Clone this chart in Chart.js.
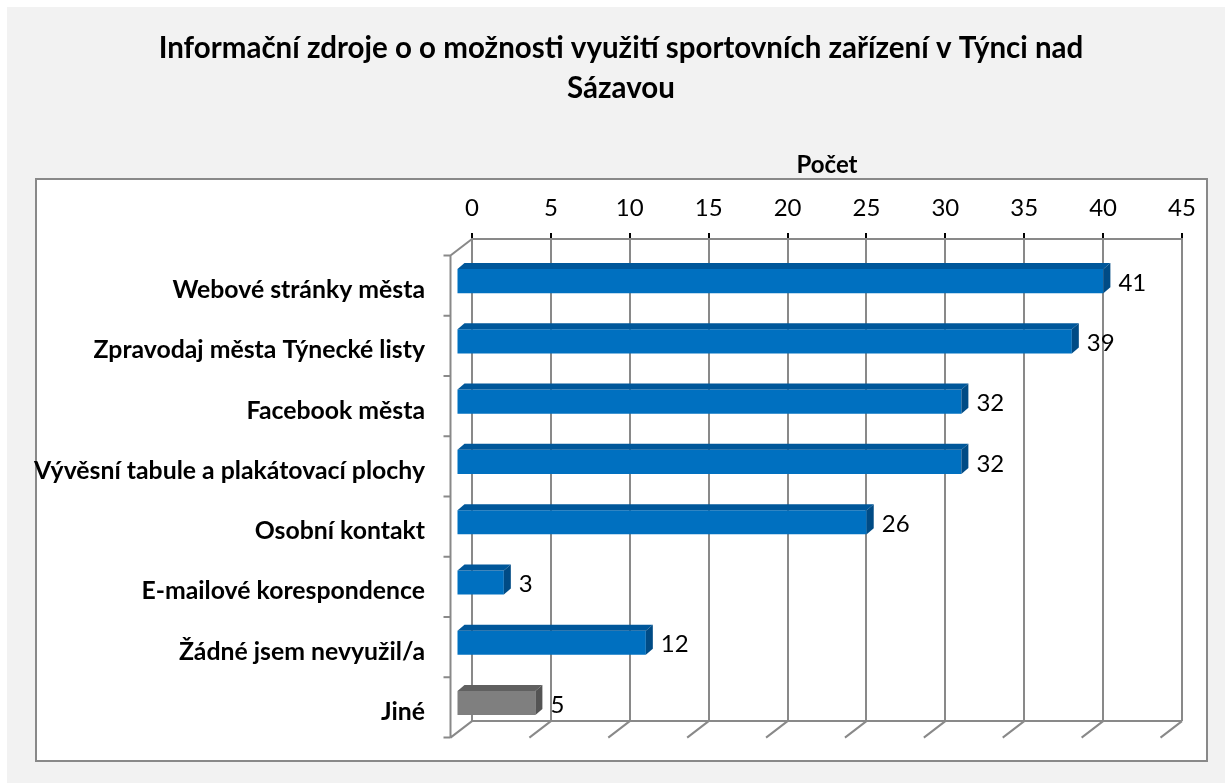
<!DOCTYPE html>
<html lang="cs">
<head>
<meta charset="utf-8">
<title>Informační zdroje</title>
<script src="https://cdn.jsdelivr.net/npm/chart.js@4.4.1/dist/chart.umd.min.js"></script>
<style>
    html, body { margin: 0; padding: 0; background: #fff; }
    #wrap { width: 1225px; height: 783px; }
</style>
</head>
<body>
<div id="wrap"><canvas id="chart" width="1225" height="783"></canvas></div>
<script>
// Data
const categories = [
    "Webové stránky města",
    "Zpravodaj města Týnecké listy",
    "Facebook města",
    "Vývěsní tabule a plakátovací plochy",
    "Osobní kontakt",
    "E-mailové korespondence",
    "Žádné jsem nevyužil/a",
    "Jiné"
];
const counts = [41, 39, 32, 32, 26, 3, 12, 5];
const axisMin = 0;
const axisMax = 45;
const axisStep = 5;
const titleLines = [
    "Informační zdroje o o možnosti využití sportovních zařízení v Týnci nad",
    "Sázavou"
];
const axisTitle = "Počet";

// Looks
const FONT = "Lato";
const BLUE = "#0070c0";
const GREY = "#7f7f7f";
const faces = {
    [BLUE]: { top: "#00579a", side: "#004b85" },
    [GREY]: { top: "#606060", side: "#545454" }
};
const GRID = "#898989";
const WALL_DEPTH = { x: -21.5, y: 16.5 };
const BAR_SHIFT = { x: -15.5, y: 12 };
const BAR_DEPTH = { x: 7, y: -6 };

// "Jiné" is drawn in grey, everything else blue
const barColors = categories.map(name => name === "Jiné" ? GREY : BLUE);

const backgroundPlugin = {
    id: "background",
    afterLayout: chart => {
        // Excel centres the title a little right of the canvas middle
        chart.titleBlock.left = 17;
        chart.titleBlock.right = chart.width;
    },
    beforeDraw: chart => {
        const ctx = chart.ctx;
        ctx.save();
        ctx.fillStyle = "#ffffff";
        ctx.fillRect(0, 0, chart.width, chart.height);
        ctx.fillStyle = "#f2f2f2";
        ctx.fillRect(7, 7, chart.width - 7, chart.height - 7);
        ctx.fillStyle = "#ffffff";
        ctx.fillRect(36, 179, 1171, 582);
        ctx.strokeStyle = GRID;
        ctx.lineWidth = 2;
        ctx.strokeRect(36, 179, 1171, 582);
        ctx.restore();
    }
};

const depthPlugin = {
    id: "depth",
    beforeDatasetsDraw: chart => {
        const ctx = chart.ctx;
        const area = chart.chartArea;
        const xScale = chart.scales.x;
        const dx = WALL_DEPTH.x, dy = WALL_DEPTH.y;

        ctx.save();
        ctx.strokeStyle = GRID;
        ctx.lineWidth = 2;
        ctx.beginPath();
        // floor back edge and front diagonals
        ctx.moveTo(area.left, area.bottom);
        ctx.lineTo(area.right, area.bottom);
        for (let v = axisMin; v <= axisMax; v += axisStep) {
            const px = xScale.getPixelForValue(v);
            ctx.moveTo(px, area.bottom);
            ctx.lineTo(px + dx, area.bottom + dy);
        }
        // left wall
        ctx.moveTo(area.left, area.top);
        ctx.lineTo(area.left + dx, area.top + dy);
        ctx.lineTo(area.left + dx, area.bottom + dy);
        const step = (area.bottom - area.top) / categories.length;
        for (let i = 0; i <= categories.length; i++) {
            const y = area.top + dy + i * step;
            ctx.moveTo(area.left + dx, y);
            ctx.lineTo(area.left + dx - 7, y);
        }
        ctx.stroke();
        ctx.restore();

        // bars sit nearer the front than the back wall
        ctx.save();
        ctx.translate(BAR_SHIFT.x, BAR_SHIFT.y);
    },
    afterDatasetsDraw: chart => {
        const ctx = chart.ctx;
        const meta = chart.getDatasetMeta(0);
        meta.data.forEach((bar, i) => {
            const { x, y, base, height } = bar.getProps(["x", "y", "base", "height"], true);
            const top = y - height / 2;
            const bottom = y + height / 2;
            const face = faces[barColors[i]];

            ctx.fillStyle = face.top;
            ctx.beginPath();
            ctx.moveTo(base, top);
            ctx.lineTo(x, top);
            ctx.lineTo(x + BAR_DEPTH.x, top + BAR_DEPTH.y);
            ctx.lineTo(base + BAR_DEPTH.x, top + BAR_DEPTH.y);
            ctx.closePath();
            ctx.fill();

            ctx.fillStyle = face.side;
            ctx.beginPath();
            ctx.moveTo(x, top);
            ctx.lineTo(x + BAR_DEPTH.x, top + BAR_DEPTH.y);
            ctx.lineTo(x + BAR_DEPTH.x, bottom + BAR_DEPTH.y);
            ctx.lineTo(x, bottom);
            ctx.closePath();
            ctx.fill();

            ctx.fillStyle = "#000";
            ctx.font = "24px " + FONT;
            ctx.textAlign = "left";
            ctx.textBaseline = "middle";
            ctx.fillText(String(counts[i]), x + 15, y + 2);
        });
        ctx.restore();
    }
};

const drawChart = () => {
    new Chart(document.getElementById("chart"), {
        type: "bar",
        data: {
            labels: categories,
            datasets: [{
                data: counts,
                backgroundColor: barColors,
                borderWidth: 0,
                barPercentage: 0.4,
                categoryPercentage: 1
            }]
        },
        options: {
            indexAxis: "y",
            responsive: false,
            animation: false,
            layout: { padding: { left: 20, right: 43, top: 0, bottom: 42 } },
            plugins: {
                legend: { display: false },
                tooltip: { enabled: false },
                title: {
                    display: true,
                    text: titleLines,
                    color: "#000",
                    font: { family: FONT, size: 29.5, weight: "bold", lineHeight: 40 / 29.5 },
                    padding: { top: 28, bottom: 9 }
                }
            },
            scales: {
                x: {
                    position: "top",
                    min: axisMin,
                    max: axisMax,
                    ticks: {
                        stepSize: axisStep,
                        color: "#000",
                        font: { family: FONT, size: 24 },
                        padding: 10
                    },
                    grid: {
                        color: GRID,
                        lineWidth: 2,
                        tickColor: "#000",
                        tickLength: 6,
                        tickWidth: 2
                    },
                    border: { display: true, color: GRID, width: 2 },
                    title: {
                        display: true,
                        text: axisTitle,
                        color: "#000",
                        font: { family: FONT, size: 24, weight: "bold" },
                        padding: { top: 34, bottom: 0 }
                    },
                    afterFit: scale => { scale.height = 122; }
                },
                y: {
                    ticks: {
                        color: "#000",
                        font: { family: FONT, size: 24.8, weight: "bold" },
                        padding: 47,
                        labelOffset: 21
                    },
                    grid: { display: false, drawTicks: false },
                    border: { display: false },
                    afterFit: scale => { scale.width = 452; }
                }
            }
        },
        plugins: [backgroundPlugin, depthPlugin]
    });
};

Promise.all([
    document.fonts.load("24px " + FONT),
    document.fonts.load("bold 24px " + FONT)
]).then(drawChart, drawChart);
</script>
</body>
</html>
